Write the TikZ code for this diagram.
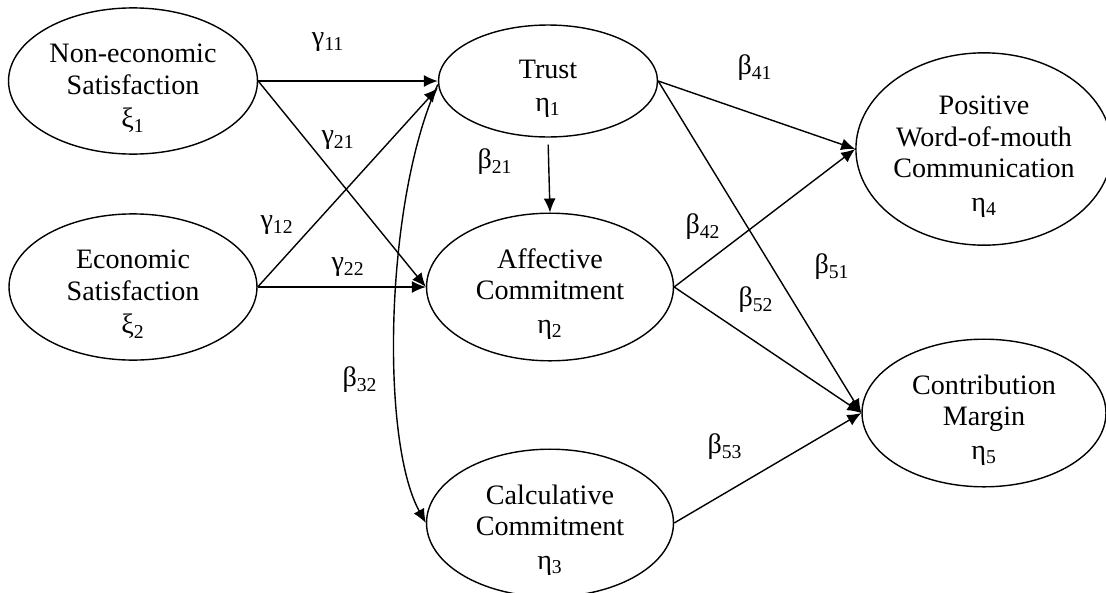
\documentclass[tikz,border=0pt]{standalone}
\usepackage{fontspec}
\setmainfont{Liberation Serif}
\usepackage{tikz}
\usetikzlibrary{shapes.geometric, arrows.meta, positioning}
\newcommand{\topgap}{\rule{0pt}{19pt}}

\begin{document}
\begin{tikzpicture}[
    x=0.02cm, y=-0.02cm,
    latent/.style={ellipse, draw, line width=0.8pt, inner sep=0pt, align=center, font=\fontsize{16}{18}\selectfont},
    path/.style={-{Latex[length=0.28cm, width=0.24cm]}, line width=0.8pt},
    coef/.style={font=\fontsize{16}{18}\selectfont},
]
    \useasboundingbox (0,0) rectangle (1106,592);

    % latent variables
    \node[latent, minimum width=4.98cm, minimum height=2.88cm] (nonecon) at (133,81) {\topgap Non-economic\\Satisfaction\\[1pt]ξ\textsubscript{1}};
    \node[latent, minimum width=4.96cm, minimum height=2.54cm] (econ) at (133,287) {\topgap Economic\\Satisfaction\\[1pt]ξ\textsubscript{2}};
    \node[latent, minimum width=4.38cm, minimum height=2.24cm] (trust) at (548,81) {\topgap Trust\\[1pt]η\textsubscript{1}};
    \node[latent, minimum width=4.94cm, minimum height=2.58cm] (affect) at (550,287) {\topgap Affective\\Commitment\\[1pt]η\textsubscript{2}};
    \node[latent, minimum width=4.94cm, minimum height=2.64cm] (calc) at (550,523) {\topgap Calculative\\Commitment\\[1pt]η\textsubscript{3}};
    \node[latent, minimum width=4.88cm, minimum height=3.44cm] (wom) at (984,149) {\topgap Positive\\Word-of-mouth\\Communication\\[1pt]η\textsubscript{4}};
    \node[latent, minimum width=4.88cm, minimum height=2.86cm] (margin) at (984,413) {\topgap Contribution\\Margin\\[1pt]η\textsubscript{5}};

    % paths
    \draw[path] (nonecon.east) -- (trust.west);
    \draw[path] (nonecon.east) -- (affect.west);
    \draw[path] (econ.east) -- ([yshift=-4pt]trust.west);
    \draw[path] (econ.east) -- (affect.west);
    \draw[path, shorten <=4pt] (trust.south) -- (affect.north);
    \draw[path] (trust.east) -- (wom.west);
    \draw[path] (trust.east) -- (margin.west);
    \draw[path] (affect.east) -- (wom.west);
    \draw[path] (affect.east) -- (margin.west);
    \draw[path] (calc.east) -- (margin.west);
    \draw[path] ([yshift=-2pt]trust.west) .. controls (385,200) and (380,440) .. (calc.west);

    % coefficients
    \node[coef] (g11) at (328,42) {γ\textsubscript{11}};
    \node[coef] (g21) at (338,140) {γ\textsubscript{21}};
    \node[coef] (g12) at (277,225) {γ\textsubscript{12}};
    \node[coef] (g22) at (348,267) {γ\textsubscript{22}};
    \node[coef] (b21) at (495,162) {β\textsubscript{21}};
    \node[coef] (b41) at (755,68) {β\textsubscript{41}};
    \node[coef] (b42) at (703,227) {β\textsubscript{42}};
    \node[coef] (b51) at (832,267) {β\textsubscript{51}};
    \node[coef] (b52) at (756,300) {β\textsubscript{52}};
    \node[coef] (b53) at (725,447) {β\textsubscript{53}};
    \node[coef] (b32) at (360,380) {β\textsubscript{32}};
\end{tikzpicture}
\end{document}
